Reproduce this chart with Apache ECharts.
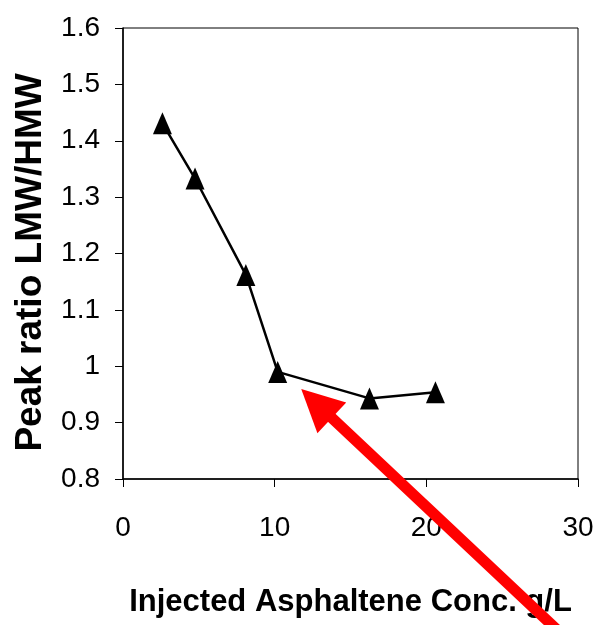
<!DOCTYPE html>
<html>
<head>
<meta charset="utf-8">
<script src="https://cdn.jsdelivr.net/npm/echarts@6/dist/echarts.min.js"></script>
<style>
    html, body { margin: 0; padding: 0; background: #fff; }
    #chart { width: 599px; height: 625px; }
</style>
</head>
<body>
<div id="chart"></div>
<script>
// Data
const concentration = [2.6, 4.75, 8.1, 10.2, 16.25, 20.6]
const peakRatio = [1.431, 1.333, 1.162, 0.990, 0.943, 0.954]

// Arrow annotation (data coordinates: tail, head centre)
const arrowTail = [29.9, 0.5]
const arrowHead = [12.76, 0.934]

const FONT = "'Liberation Sans', Arial, sans-serif"

const chart = echarts.init(document.getElementById('chart'), null, { renderer: 'canvas' })

const option = {
    animation: false,
    backgroundColor: '#fff',
    grid: {
        left: 123,
        top: 28,
        right: 21,
        bottom: 146,
        outerBoundsMode: 'none',
        containLabel: false,
        show: true,
        borderColor: '#000',
        borderWidth: 1
    },
    xAxis: {
        type: 'value',
        min: 0,
        max: 30,
        interval: 10,
        name: 'Injected Asphaltene Conc. g/L',
        nameLocation: 'middle',
        nameGap: 108,
        nameTextStyle: {
            fontFamily: FONT,
            fontSize: 31,
            fontWeight: 'bold',
            color: '#000'
        },
        axisLine: { lineStyle: { color: '#000', width: 1.5 } },
        axisTick: { show: true, inside: false, length: 8, lineStyle: { color: '#000' } },
        axisLabel: { margin: 35, fontFamily: FONT, fontSize: 28, color: '#000' },
        splitLine: { show: false }
    },
    yAxis: {
        type: 'value',
        min: 0.8,
        max: 1.6,
        interval: 0.1,
        name: 'Peak ratio LMW/HMW',
        nameLocation: 'middle',
        nameRotate: 90,
        nameGap: 74,
        nameTextStyle: {
            fontFamily: FONT,
            fontSize: 37,
            fontWeight: 'bold',
            color: '#000',
            padding: [0, 18, 0, 0]
        },
        axisLine: { show: true, lineStyle: { color: '#000', width: 1.5 } },
        axisTick: { show: true, inside: false, length: 8, lineStyle: { color: '#000' } },
        axisLabel: { margin: 23, fontFamily: FONT, fontSize: 28, color: '#000' },
        splitLine: { show: false }
    },
    series: [
        {
            name: 'Peak ratio',
            type: 'line',
            data: concentration.map((x, i) => [x, peakRatio[i]]),
            symbol: 'triangle',
            symbolSize: [19, 22],
            lineStyle: { color: '#000', width: 2.5 },
            itemStyle: { color: '#000' },
            clip: false
        },
        {
            name: 'Arrow',
            type: 'lines',
            coordinateSystem: 'cartesian2d',
            clip: false,
            silent: true,
            z: 5,
            symbol: ['none', 'triangle'],
            symbolSize: 42,
            lineStyle: { color: '#ff0000', width: 11, opacity: 1, curveness: 0 },
            data: [{ coords: [arrowTail, arrowHead] }]
        }
    ]
}

chart.setOption(option)
</script>
</body>
</html>
